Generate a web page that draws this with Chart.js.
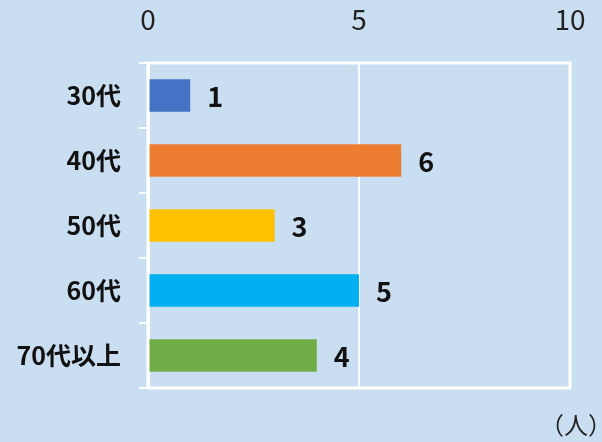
<!DOCTYPE html>
<html>
<head>
<meta charset="utf-8">
<script src="https://cdn.jsdelivr.net/npm/chart.js@4"></script>
<style>
  html, body { margin: 0; padding: 0; background: #cadef1; }
  #wrap { width: 602px; height: 442px; position: relative; }
</style>
</head>
<body>
<div id="wrap"><canvas id="chart" width="602" height="442"></canvas></div>
<script>
// age groups -> number of people
const categories = ['30代', '40代', '50代', '60代', '70代以上'];
const counts = [1, 6, 3, 5, 4];
const barColors = ['#4472c4', '#ed7d31', '#ffc000', '#00b0f0', '#70ad47'];
const tickValues = [0, 5, 10];
const unitLabel = '（人）';

const FONT = "'Noto Sans CJK JP', 'Noto Sans', sans-serif";

// white frame around the plot area
const frame = {
    id: 'frame',
    afterDraw(chart) {
        const { ctx, chartArea: a } = chart;
        ctx.save();
        ctx.strokeStyle = '#ffffff';
        ctx.lineWidth = 3;
        ctx.strokeRect(a.left, a.top, a.right - a.left, a.bottom - a.top);
        ctx.restore();
    }
};

// value labels next to each bar + unit text
const valueLabels = {
    id: 'valueLabels',
    afterDatasetsDraw(chart) {
        const ctx = chart.ctx;
        ctx.save();
        ctx.fillStyle = '#111';
        ctx.font = 'bold 27px ' + FONT;
        ctx.textBaseline = 'middle';
        ctx.textAlign = 'left';
        chart.getDatasetMeta(0).data.forEach((bar, i) => {
            ctx.fillText(String(counts[i]), bar.x + 17, bar.y + 1);
        });
        ctx.font = '24px ' + FONT;
        ctx.fillStyle = '#222';
        ctx.fillText(unitLabel, 540, 425);
        ctx.restore();
    }
};

new Chart(document.getElementById('chart'), {
    type: 'bar',
    data: {
        labels: categories,
        datasets: [{
            data: counts,
            backgroundColor: barColors,
            borderWidth: 0,
            barPercentage: 0.5,
            categoryPercentage: 1
        }]
    },
    options: {
        indexAxis: 'y',
        responsive: false,
        animation: false,
        layout: { padding: { left: 0, top: 0, right: 32, bottom: 54 } },
        plugins: { legend: { display: false }, tooltip: { enabled: false } },
        scales: {
            x: {
                position: 'top',
                min: 0, max: 10,
                afterBuildTicks: s => { s.ticks = tickValues.map(v => ({ value: v })); },
                afterFit: s => { s.height = 63; s.paddingLeft = 0; s.paddingRight = 0; },
                grid: { color: '#ffffff', lineWidth: 2, drawTicks: false },
                border: { display: false },
                ticks: { color: '#222', font: { family: FONT, size: 28 }, padding: 27, maxRotation: 0 }
            },
            y: {
                afterFit: s => { s.width = 148; },
                grid: { color: '#ffffff', lineWidth: 2, drawOnChartArea: false, tickLength: 9 },
                border: { color: '#ffffff', width: 3 },
                ticks: { color: '#111', font: { family: FONT, size: 25, weight: 'bold' }, padding: 18 }
            }
        }
    },
    plugins: [frame, valueLabels]
});
</script>
</body>
</html>
